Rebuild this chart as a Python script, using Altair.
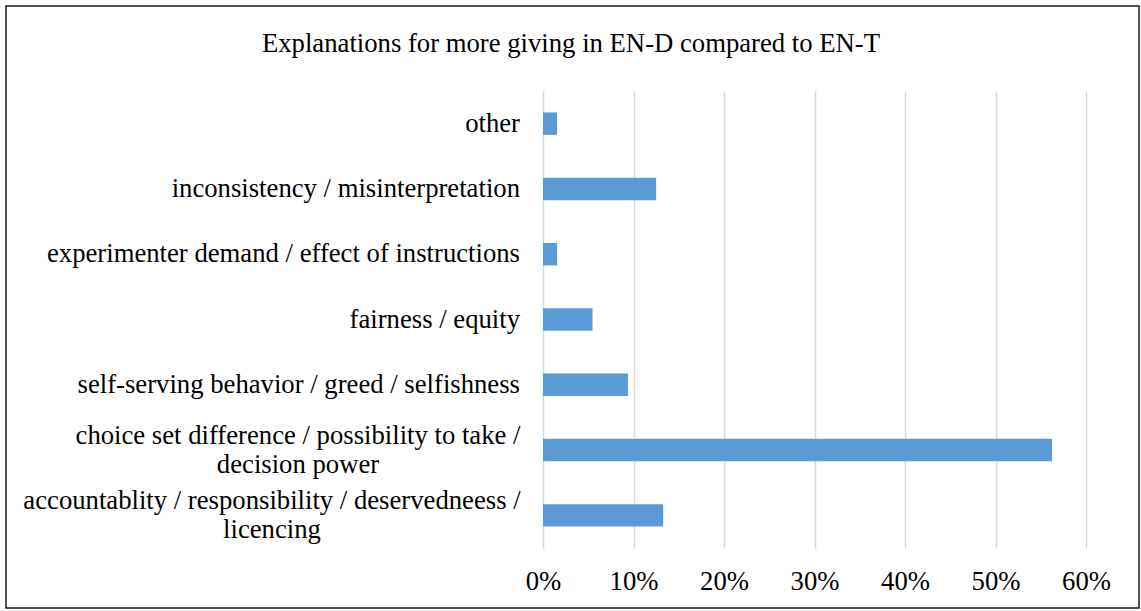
import altair as alt
import pandas as pd

categories = [
    "other",
    "inconsistency / misinterpretation",
    "experimenter demand / effect of instructions",
    "fairness / equity",
    "self-serving behavior / greed / selfishness",
    "choice set difference / possibility to take / decision power",
    "accountablity / responsibility / deservedneess / licencing",
]
shares = [0.0156, 0.125, 0.0156, 0.0547, 0.0938, 0.5625, 0.1328]
label_lines = [
    "other",
    "inconsistency / misinterpretation",
    "experimenter demand / effect of instructions",
    "fairness / equity",
    "self-serving behavior / greed / selfishness",
    "choice set difference / possibility to take /|decision power",
    "accountablity / responsibility / deservedneess /|licencing",
]
wrapped = [False, False, False, False, False, True, True]
x_ticks = [0, 0.1, 0.2, 0.3, 0.4, 0.5, 0.6]
title_text = "Explanations for more giving in EN-D compared to EN-T"

FONT = "'Liberation Serif', 'Times New Roman', 'DejaVu Serif', serif"
FS = 26.7
W, H = 543, 457

df = pd.DataFrame({"cat": categories, "share": shares, "label": label_lines, "wrapped": wrapped})

yenc = alt.Y("cat:N", sort=categories, axis=None,
             scale=alt.Scale(paddingInner=0.656, paddingOuter=0.328))

bars = alt.Chart(df).mark_bar(color="#5B9BD5").encode(
    x=alt.X("share:Q",
            scale=alt.Scale(domain=[0, 0.6], nice=False),
            axis=alt.Axis(values=x_ticks, format=".0%", title=None, ticks=False, domain=False,
                          grid=True, gridColor="#D9D9D9", gridWidth=1.5, labelFlush=False,
                          labelFont=FONT, labelFontSize=FS, labelColor="black",
                          labelBaseline="alphabetic", labelPadding=41)),
    y=yenc,
)

single = alt.Chart(df).transform_filter("!datum.wrapped").mark_text(
    font=FONT, fontSize=FS, color="black", align="right", baseline="middle"
).encode(x=alt.value(-23), y=yenc, text="label:N")

choice_lbl = alt.Chart(df).transform_filter(alt.datum.cat == categories[5]).mark_text(
    font=FONT, fontSize=FS, color="black", align="center", baseline="middle",
    lineBreak="|", lineHeight=29, dy=-14
).encode(x=alt.value(-245), y=yenc, text="label:N")

acc_lbl = alt.Chart(df).transform_filter(alt.datum.cat == categories[6]).mark_text(
    font=FONT, fontSize=FS, color="black", align="center", baseline="middle",
    lineBreak="|", lineHeight=29, dy=-14
).encode(x=alt.value(-271), y=yenc, text="label:N")

title_lbl = alt.Chart(pd.DataFrame({"t": [title_text]})).mark_text(
    font=FONT, fontSize=FS, color="black", align="center", baseline="alphabetic"
).encode(x=alt.value(28), y=alt.value(-39), text="t:N")

frame = alt.Chart(pd.DataFrame({"b": [0]})).mark_rect(
    fillOpacity=0, stroke="#1a1a1a", strokeWidth=1.5
).encode(x=alt.value(-537), x2=alt.value(596), y=alt.value(-85), y2=alt.value(517))

chart = alt.layer(frame, bars, single, choice_lbl, acc_lbl, title_lbl).properties(
    width=W, height=H,
    background="white",
    autosize=alt.AutoSizeParams(type="none"),
    padding={"left": 543, "top": 91, "right": 55, "bottom": 63},
).configure_view(stroke=None)

chart.save("out.html", embed_options={"renderer": "svg", "actions": False})
